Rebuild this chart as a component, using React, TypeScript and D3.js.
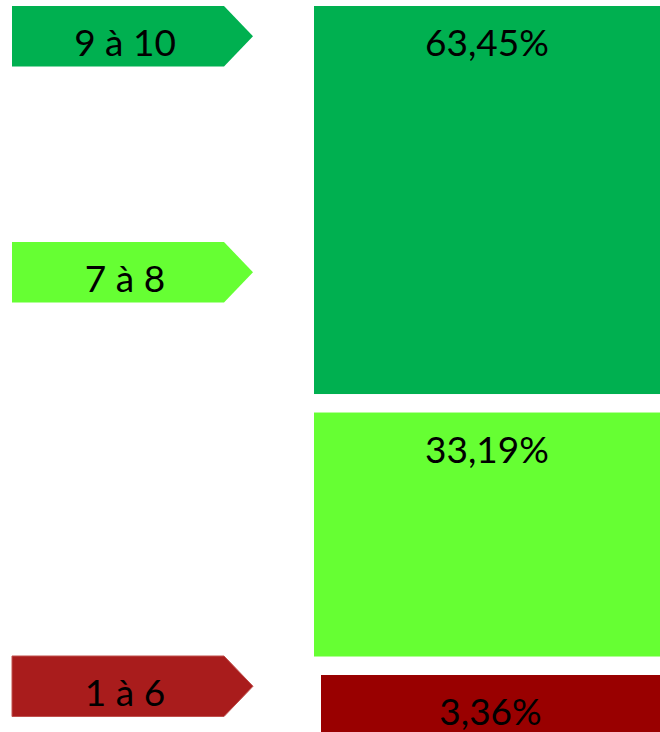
import React from "react";
import * as d3 from "d3";

const categories = ["9 à 10", "7 à 8", "1 à 6"];
const values = [63.45, 33.19, 3.36];
const valueLabels = ["63,45%", "33,19%", "3,36%"];

const W = 660;
const H = 732;
const blockColors = ["#00B050", "#66FF33", "#990000"];
const arrowColors = ["#00B050", "#66FF33", "#A91C1C"];
const arrowTops = [6, 242, 656];

export default function App() {
  const hScale = d3.scaleLinear().domain([0, 100]).range([86, 562]);
  const gap = 18.5;
  const tops: number[] = [];
  let y = 6;
  values.forEach((v) => {
    tops.push(y);
    y += hScale(v) + gap;
  });
  const blockRight = 660;
  const arrowLeft = 12;
  const arrowBody = 224;
  const arrowTip = 253;
  const arrowH = 60.5;
  const font = "Lato, 'Open Sans', sans-serif";
  return (
    <svg
      width={W}
      height={H}
      style={{ position: "absolute", left: 0, top: 0, background: "#fff" }}
    >
      {values.map((v, i) => {
        const x0 = i === 2 ? 321 : 314;
        const top = tops[i];
        const h = hScale(v);
        return (
          <g key={"b" + i}>
            <rect x={x0} y={top} width={blockRight - x0} height={h} fill={blockColors[i]} />
            <text
              x={(x0 + blockRight) / 2}
              y={top + 50}
              textAnchor="middle"
              fontFamily={font}
              fontSize={37}
              fill="#000"
            >
              {valueLabels[i]}
            </text>
          </g>
        );
      })}
      {categories.map((c, i) => {
        const t = arrowTops[i];
        const b = t + arrowH;
        const m = (t + b) / 2;
        const path = d3.path();
        path.moveTo(arrowLeft, t);
        path.lineTo(arrowBody, t);
        path.lineTo(arrowTip, m);
        path.lineTo(arrowBody, b);
        path.lineTo(arrowLeft, b);
        path.closePath();
        return (
          <g key={"a" + i}>
            <path
              d={path.toString()}
              fill={arrowColors[i]}
              stroke={i === 2 ? "#C0504D" : "none"}
              strokeWidth={1}
            />
            <text
              x={125}
              y={m + 19.5}
              textAnchor="middle"
              fontFamily={font}
              fontSize={37}
              fill="#000"
            >
              {c}
            </text>
          </g>
        );
      })}
    </svg>
  );
}
